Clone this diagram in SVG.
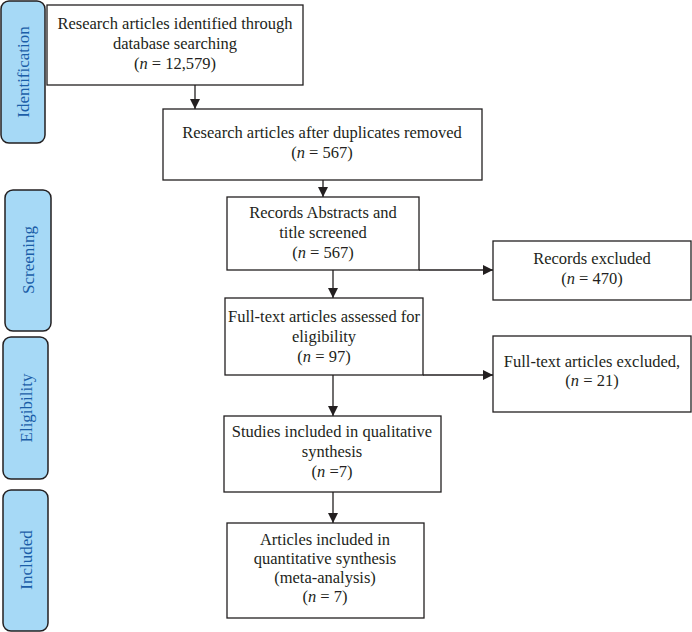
<svg xmlns="http://www.w3.org/2000/svg" width="692" height="632" viewBox="0 0 692 632">
<style>
.box{fill:#fff;stroke:#231f20;stroke-width:1.3}
.side{fill:#a6d9f6;stroke:#231f20;stroke-width:1.5}
.t{font-family:"Liberation Serif","Times New Roman",serif;font-size:16.5px;fill:#231f20;text-anchor:middle}
.s{font-family:"Liberation Serif","Times New Roman",serif;font-size:17px;fill:#1b5ea8;text-anchor:middle}
.c{stroke:#231f20;stroke-width:1.3;fill:none}
</style>
<defs>
<marker id="ah" viewBox="0 0 10 10" refX="10" refY="5" markerWidth="10" markerHeight="10" markerUnits="userSpaceOnUse" orient="auto">
<path d="M0,0 L10,5 L0,10 Z" fill="#231f20"/>
</marker>
</defs>
<g id="side-identification"><rect class="side" x="1" y="1" width="44" height="142" rx="8"/><text class="s" transform="translate(29,72) rotate(-90)">Identification</text></g>
<g id="side-screening"><rect class="side" x="5" y="190" width="46" height="141" rx="8"/><text class="s" transform="translate(34,260) rotate(-90)">Screening</text></g>
<g id="side-eligibility"><rect class="side" x="3" y="337" width="45" height="142" rx="8"/><text class="s" transform="translate(32,408) rotate(-90)">Eligibility</text></g>
<g id="side-included"><rect class="side" x="3" y="490" width="45" height="141" rx="8"/><text class="s" transform="translate(32,560) rotate(-90)">Included</text></g>

<g id="connectors">
<line class="c" x1="195" y1="85" x2="195" y2="109" marker-end="url(#ah)"/>
<line class="c" x1="323" y1="180" x2="323" y2="197" marker-end="url(#ah)"/>
<line class="c" x1="333" y1="270" x2="333" y2="298" marker-end="url(#ah)"/>
<line class="c" x1="419" y1="270" x2="493" y2="270" marker-end="url(#ah)"/>
<line class="c" x1="333" y1="375" x2="333" y2="416" marker-end="url(#ah)"/>
<line class="c" x1="423" y1="375" x2="493" y2="375" marker-end="url(#ah)"/>
<line class="c" x1="333" y1="492" x2="333" y2="523" marker-end="url(#ah)"/>
</g>

<g id="n1"><rect class="box" x="47" y="5" width="256" height="80"/>
<text class="t" x="175" y="29">Research articles identified through</text>
<text class="t" x="175" y="49">database searching</text>
<text class="t" x="175" y="69">(<tspan font-style="italic">n</tspan> = 12,579)</text></g>

<g id="n2"><rect class="box" x="163" y="109" width="319" height="71"/>
<text class="t" x="322" y="138">Research articles after duplicates removed</text>
<text class="t" x="322" y="158">(<tspan font-style="italic">n</tspan> = 567)</text></g>

<g id="n3"><rect class="box" x="227" y="197" width="192" height="73"/>
<text class="t" x="323" y="218">Records Abstracts and</text>
<text class="t" x="323" y="238">title screened</text>
<text class="t" x="323" y="258">(<tspan font-style="italic">n</tspan> = 567)</text></g>

<g id="n4"><rect class="box" x="493" y="241" width="198" height="59"/>
<text class="t" x="592" y="264">Records excluded</text>
<text class="t" x="592" y="284">(<tspan font-style="italic">n</tspan> = 470)</text></g>

<g id="n5"><rect class="box" x="225" y="298" width="198" height="77"/>
<text class="t" x="324" y="322">Full-text articles assessed for</text>
<text class="t" x="324" y="342">eligibility</text>
<text class="t" x="324" y="362">(<tspan font-style="italic">n</tspan> = 97)</text></g>

<g id="n6"><rect class="box" x="493" y="336" width="198" height="76"/>
<text class="t" x="592" y="367">Full-text articles excluded,</text>
<text class="t" x="592" y="386">(<tspan font-style="italic">n</tspan> = 21)</text></g>

<g id="n7"><rect class="box" x="224" y="416" width="217" height="76"/>
<text class="t" x="332" y="437">Studies included in qualitative</text>
<text class="t" x="332" y="457">synthesis</text>
<text class="t" x="332" y="477">(<tspan font-style="italic">n</tspan> =7)</text></g>

<g id="n8"><rect class="box" x="227" y="523" width="197" height="95"/>
<text class="t" x="325" y="545">Articles included in</text>
<text class="t" x="325" y="564">quantitative synthesis</text>
<text class="t" x="325" y="583">(meta-analysis)</text>
<text class="t" x="325" y="602">(<tspan font-style="italic">n</tspan> = 7)</text></g>
</svg>
